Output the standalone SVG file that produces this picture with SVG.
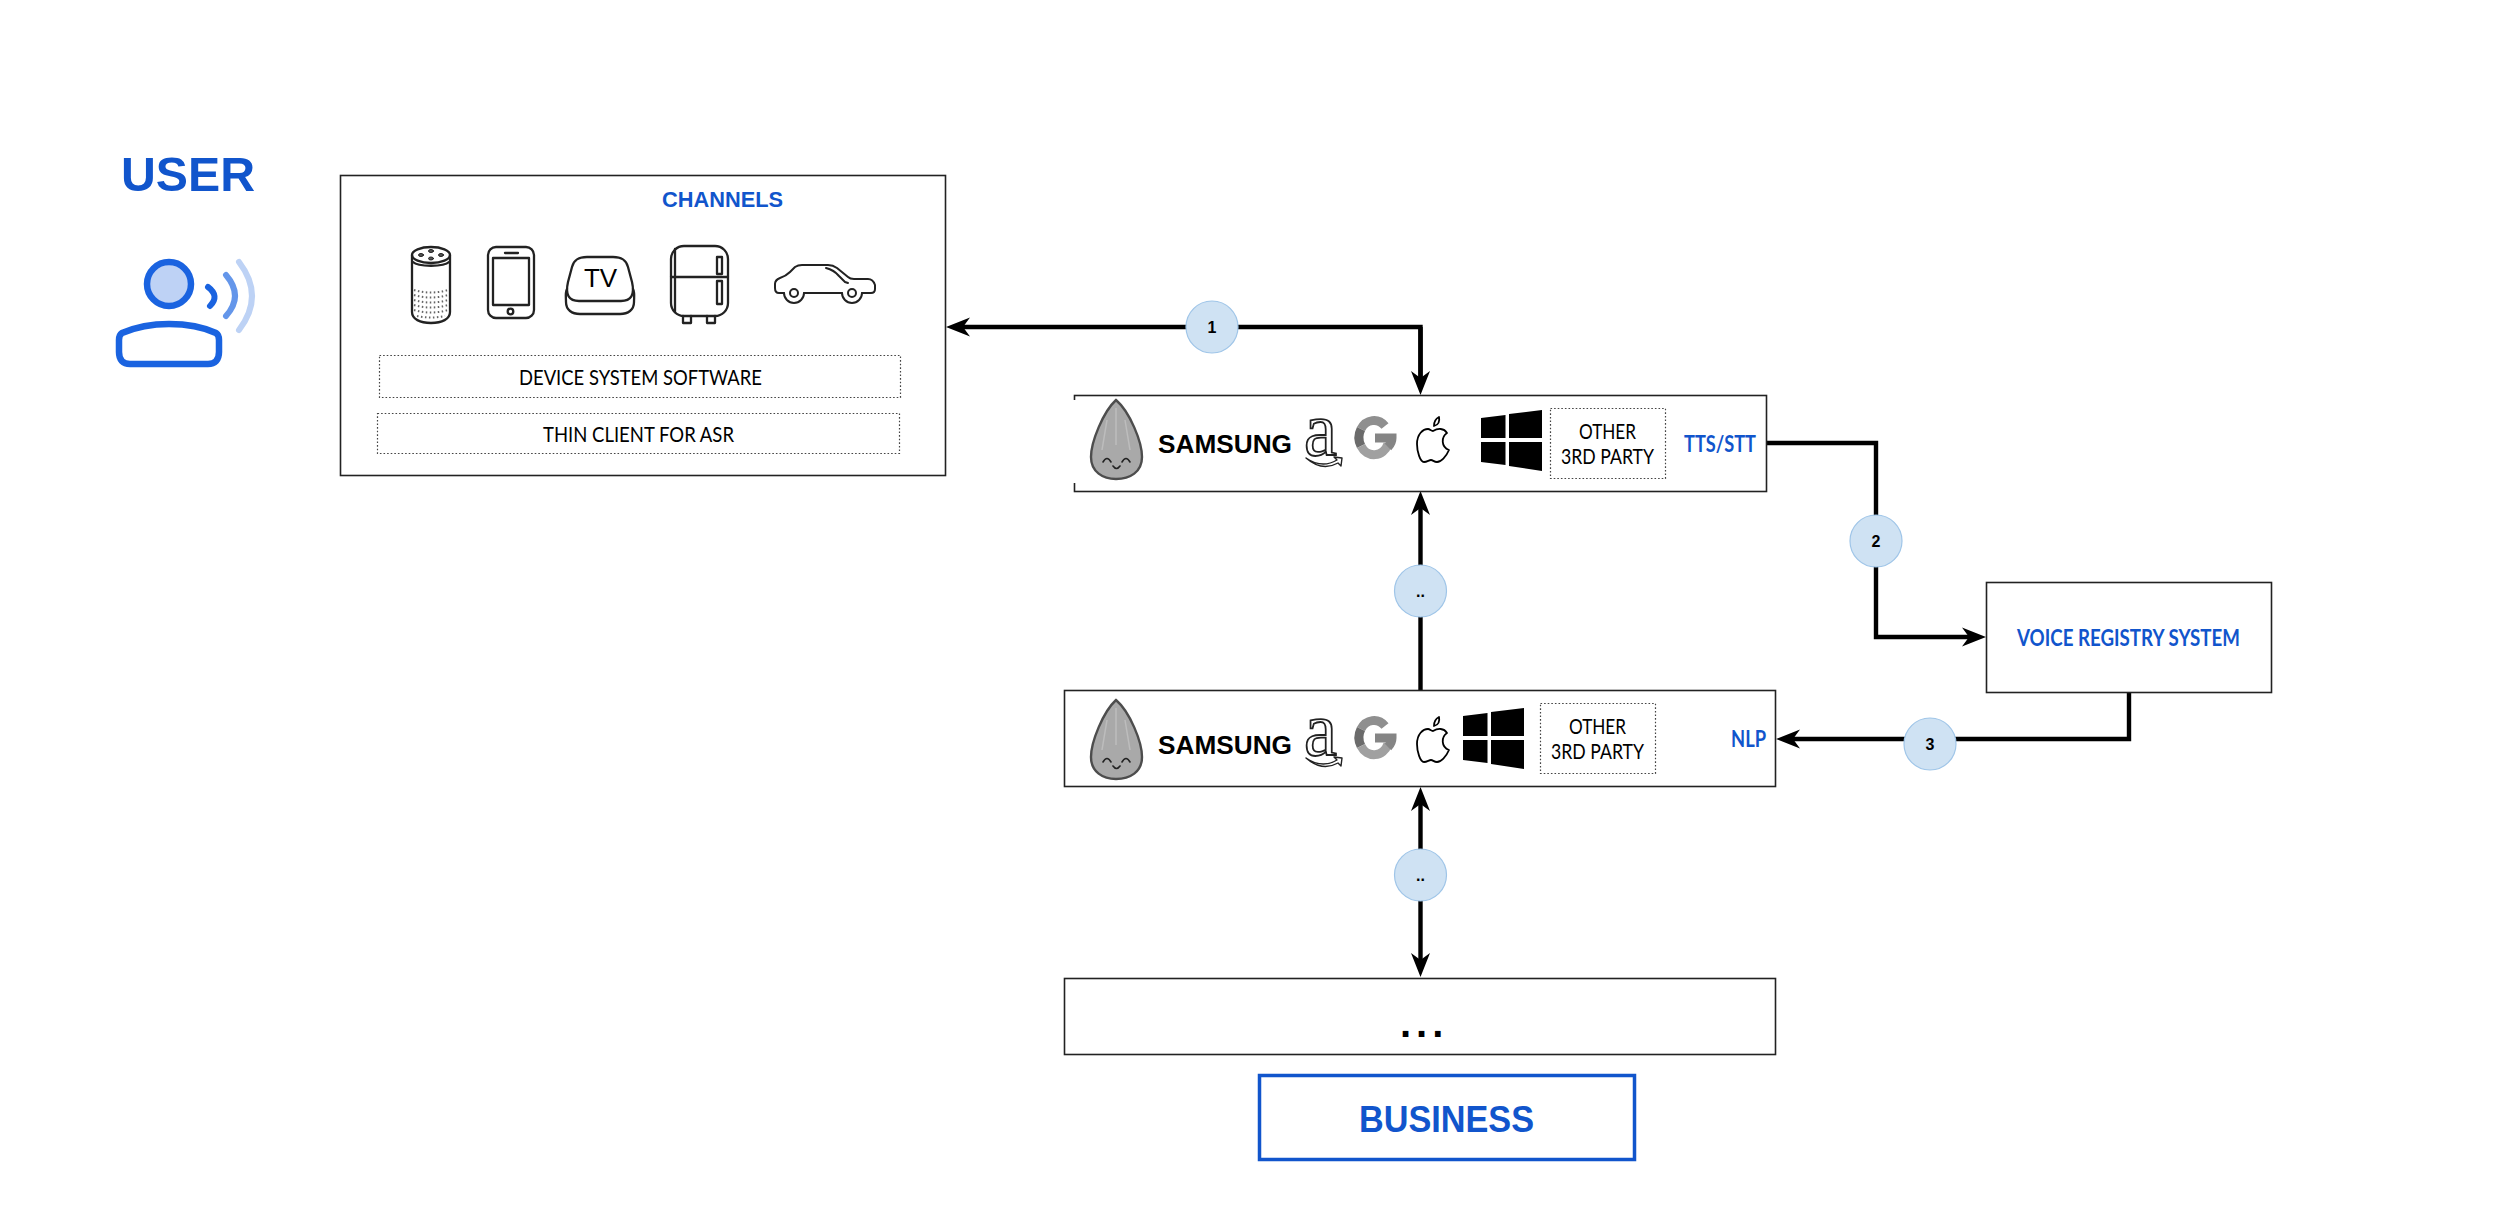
<svg xmlns="http://www.w3.org/2000/svg" width="2500" height="1218" viewBox="0 0 2500 1218">
<style>
text{font-family:"Lato","Open Sans",sans-serif;fill:#000}
.h{font-family:"Liberation Sans",Arial,sans-serif;font-weight:700;fill:#1155cc}
.b{font-weight:700;fill:#1155cc;font-size:22px}
.t{font-size:22px}
.box{fill:#fff;stroke:#222;stroke-width:1.6}
.dot{fill:none;stroke:#444;stroke-width:1.2;stroke-dasharray:1.6 2}
.con{fill:none;stroke:#000;stroke-width:4.4}
.pin{fill:#cfe2f3;stroke:#9fc5e8;stroke-width:1.2}
.n{font-family:"Liberation Sans",Arial,sans-serif;font-weight:700;font-size:16px;text-anchor:middle}
.ic{fill:none;stroke:#222;stroke-width:2.3;stroke-linejoin:round;stroke-linecap:round}
.sam{font-family:"Liberation Sans",Arial,sans-serif;font-weight:700;font-size:26px}
.ama{font-family:"Liberation Serif",serif;font-size:76px;fill:#fff;stroke:#222;stroke-width:1.8px}
</style>
<defs>
<marker id="arrow" markerUnits="userSpaceOnUse" markerWidth="26" markerHeight="22" viewBox="0 0 26 22" refX="16" refY="11" orient="auto-start-reverse">
<path d="M24 11L0 1.500L7 11L0 20.500Z" fill="#000"/>
</marker>
<g id="almond">
<path d="M1116 400C1103 412 1091 442 1091 457C1091 472 1103 479 1116 479C1130 479 1142 472 1142 457C1142 442 1130 412 1116 400Z" fill="#a9a9a9" stroke="#4d4d4d" stroke-width="2.400"/>
<path d="M1116 408V445M1107 420L1102 450M1125 420L1130 450" fill="none" stroke="#bdbdbd" stroke-width="1.500"/>
<path d="M1103 462Q1107 455 1111 462M1122 462Q1126 455 1130 462M1113 466Q1116.500 471 1120 466" fill="none" stroke="#222" stroke-width="1.600" stroke-linecap="round"/>
</g>
<g id="smile">
<path d="M1306 458Q1322 469 1337 460L1334 457L1342 458L1341 466L1338 463Q1322 472 1306 458Z" fill="#fff" stroke="#222" stroke-width="1.400" stroke-linejoin="round"/>
</g>
<g id="google" fill="none" stroke-width="9">
<path d="M1385 426A15 17 0 0 0 1361 429" stroke="#8f8f8f"/>
<path d="M1361 429A15 17 0 0 0 1361 446" stroke="#6b6b6b"/>
<path d="M1361 446A15 17 0 0 0 1388 444" stroke="#a0a0a0"/>
<path d="M1375 438H1392C1392 441 1391 444 1388 447" stroke="#858585"/>
</g>
<g id="apple" fill="#fff" stroke="#000" stroke-width="1.800" stroke-linejoin="round">
<path d="M1433 431C1438 428 1444 428 1447 433C1441 437 1441 447 1449 450C1446 457 1441 462 1437 462C1434 462 1433 460 1431 460C1429 460 1427 462 1424 462C1420 462 1417 451 1417 444C1417 434 1423 429 1428 429C1430 429 1431 431 1433 431Z"/>
<path d="M1434 426C1434 421 1437 418 1439 417C1440 422 1438 425 1434 426Z"/>
</g>
<path id="windows" d="M1481 418L1505.500 415V438H1481ZM1509 414L1542 410V438H1509ZM1481 442H1505.500V465L1481 462ZM1509 442H1542V471L1509 466Z" fill="#000"/>
</defs>

<g id="connectors">
<path class="con" d="M1420.500 385V327H954" marker-end="url(#arrow)"/>
<path class="con" d="M1420.500 387V327" marker-start="url(#arrow)"/>
<path class="con" d="M1420.500 690V499" marker-end="url(#arrow)"/>
<path class="con" d="M1420.500 795V969" marker-start="url(#arrow)" marker-end="url(#arrow)"/>
<path class="con" d="M1766 443H1876V637H1978" marker-end="url(#arrow)"/>
<path class="con" d="M2129 693V739H1784" marker-end="url(#arrow)"/>
</g>

<g id="user">
<text class="h" x="121" y="191" font-size="48" textLength="134" lengthAdjust="spacingAndGlyphs">USER</text>
<circle cx="169" cy="284" r="22" fill="#bed2f5" stroke="#1a63e0" stroke-width="6.500"/>
<path d="M122 333C136 327 152 324 169 324C186 324 203 327 216 333C219 335 219 337 219 340V352C219 360 215 364 208 364H130C123 364 119 360 119 352V340C119 337 119 335 122 333Z" fill="#fff" stroke="#1a63e0" stroke-width="6.500"/>
<path d="M208 287Q220 296 210 306" fill="none" stroke="#1a63e0" stroke-width="6" stroke-linecap="round"/>
<path d="M226 275Q244 296 226 316" fill="none" stroke="#6496ea" stroke-width="6" stroke-linecap="round"/>
<path d="M239 262Q265 296 239 330" fill="none" stroke="#bdd2f5" stroke-width="6" stroke-linecap="round"/>
</g>

<g id="channels">
<rect class="box" x="340.500" y="175.500" width="605" height="300"/>
<text class="h" x="662" y="207" font-size="22" textLength="121" lengthAdjust="spacingAndGlyphs">CHANNELS</text>
<g id="speaker" class="ic">
<ellipse cx="431" cy="255" rx="19" ry="8"/>
<path d="M412 255V312C412 319 420 323 431 323C442 323 450 319 450 312V255M413 262C418 267 444 267 449 262"/>
<ellipse cx="421" cy="255" rx="2.500" ry="1.500" fill="#555" stroke-width="1"/>
<ellipse cx="431" cy="251" rx="2.500" ry="1.500" fill="#555" stroke-width="1"/>
<ellipse cx="441" cy="255" rx="2.500" ry="1.500" fill="#555" stroke-width="1"/>
<ellipse cx="431" cy="258.500" rx="2.500" ry="1.500" fill="#555" stroke-width="1"/>
<path d="M414 290Q431 295 448 290M414 295Q431 300 448 295M414 300Q431 305 448 300M414 305Q431 310 448 305M414 310Q431 315 448 310M417 316Q431 319 445 316" stroke="#666" stroke-width="2" stroke-dasharray="1.500 2.500" stroke-linecap="butt"/>
</g>
<g id="phone" class="ic">
<rect x="488" y="247" width="46" height="71" rx="8"/>
<rect x="493" y="258" width="36" height="47"/>
<path d="M505 253H518"/>
<circle cx="510.500" cy="311.500" r="2.800"/>
</g>
<g id="tv" class="ic">
<path d="M587 257H613C622 257 626 260 628 267L632 282C635 295 631 301 621 301H579C569 301 565 295 568 282L572 267C574 260 578 257 587 257Z"/>
<path d="M567 289C565 293 566 297 566 302C566 310 572 314 580 314H620C628 314 634 310 634 302C634 297 635 293 633 289"/>
</g>
<text x="600.500" y="287" text-anchor="middle" font-size="26" style="font-family:'Liberation Sans',Arial,sans-serif">TV</text>
<g id="fridge" class="ic">
<rect x="671" y="246" width="57" height="70" rx="13"/>
<path d="M675 249V312M671 277H728"/>
<rect x="717" y="257" width="5" height="17"/>
<rect x="717" y="281" width="5" height="23"/>
<path d="M683 316V323H691V316M707 316V323H715V316"/>
</g>
<g id="car" class="ic" style="stroke-width:2">
<path d="M784 293H779Q775 293 775 288V284Q775 280 780 278Q786 276 790 272L795 267Q798 265 802 265H828Q833 265 837 268L848 277Q850 279 854 279H868Q873 279 875 285V289Q875 293 871 293H862M842 293H804"/>
<path d="M784 293A10 10 0 0 0 804 293M842 293A10 10 0 0 0 862 293"/>
<circle cx="794" cy="293" r="4"/>
<circle cx="852" cy="293" r="4"/>
<path d="M826 268Q834 270 839 276L845 282L848 283"/>
</g>
<rect class="dot" x="379.500" y="355.500" width="521" height="42"/>
<text class="t" x="519" y="384.500" textLength="243" lengthAdjust="spacingAndGlyphs">DEVICE SYSTEM SOFTWARE</text>
<rect class="dot" x="377.500" y="413.500" width="522" height="40"/>
<text class="t" x="543" y="441.500" textLength="191" lengthAdjust="spacingAndGlyphs">THIN CLIENT FOR ASR</text>
</g>

<g id="tts-stt">
<rect class="box" x="1074.500" y="395.500" width="692" height="96"/>
<rect x="1072" y="400" width="70" height="83" fill="#fff"/>
<use href="#almond"/>
<text class="sam" x="1158" y="453" textLength="134" lengthAdjust="spacingAndGlyphs">SAMSUNG</text>
<text class="ama" x="1304" y="455" textLength="33" lengthAdjust="spacingAndGlyphs">a</text>
<use href="#smile"/>
<use href="#google"/>
<use href="#apple"/>
<use href="#windows"/>
<rect class="dot" x="1550.500" y="408.500" width="115" height="70"/>
<text class="t" x="1579" y="438.500" textLength="57" lengthAdjust="spacingAndGlyphs">OTHER</text>
<text class="t" x="1561" y="463.500" textLength="93" lengthAdjust="spacingAndGlyphs">3RD PARTY</text>
<text class="b" x="1684" y="452" textLength="72" lengthAdjust="spacingAndGlyphs">TTS/STT</text>
</g>

<g id="nlp">
<rect class="box" x="1064.500" y="690.500" width="711" height="96"/>
<use href="#almond" y="300"/>
<text class="sam" x="1158" y="753.500" textLength="134" lengthAdjust="spacingAndGlyphs">SAMSUNG</text>
<text class="ama" x="1304" y="755" textLength="33" lengthAdjust="spacingAndGlyphs">a</text>
<use href="#smile" y="300"/>
<use href="#google" y="300"/>
<use href="#apple" y="300"/>
<use href="#windows" x="-18" y="298"/>
<rect class="dot" x="1540.500" y="703.500" width="115" height="70"/>
<text class="t" x="1569" y="733.500" textLength="57" lengthAdjust="spacingAndGlyphs">OTHER</text>
<text class="t" x="1551" y="758.500" textLength="93" lengthAdjust="spacingAndGlyphs">3RD PARTY</text>
<text class="b" x="1731" y="747" textLength="35" lengthAdjust="spacingAndGlyphs">NLP</text>
</g>

<g id="voice-registry">
<rect class="box" x="1986.500" y="582.500" width="285" height="110"/>
<text class="b" x="2017" y="646" textLength="223" lengthAdjust="spacingAndGlyphs">VOICE REGISTRY SYSTEM</text>
</g>

<g id="more">
<rect class="box" x="1064.500" y="978.500" width="711" height="76"/>
<text x="1400" y="1037" font-size="40" font-weight="700" letter-spacing="5" style="font-family:'Liberation Sans',Arial,sans-serif">...</text>
</g>

<g id="business">
<rect x="1259.500" y="1075.500" width="375" height="84" fill="#fff" stroke="#1155cc" stroke-width="3.500"/>
<text class="h" x="1359" y="1132" font-size="36" textLength="175" lengthAdjust="spacingAndGlyphs">BUSINESS</text>
</g>

<g id="pin-1"><ellipse class="pin" cx="1212" cy="327" rx="26" ry="26"/><text class="n" x="1212" y="332.500">1</text></g>
<g id="pin-2"><ellipse class="pin" cx="1876" cy="541" rx="26" ry="26"/><text class="n" x="1876" y="546.500">2</text></g>
<g id="pin-3"><ellipse class="pin" cx="1930" cy="744" rx="26" ry="26"/><text class="n" x="1930" y="749.500">3</text></g>
<g id="pin-4"><ellipse class="pin" cx="1420.500" cy="591" rx="26" ry="26"/><text class="n" x="1420.500" y="597">..</text></g>
<g id="pin-5"><ellipse class="pin" cx="1420.500" cy="875" rx="26" ry="26"/><text class="n" x="1420.500" y="881">..</text></g>
</svg>
